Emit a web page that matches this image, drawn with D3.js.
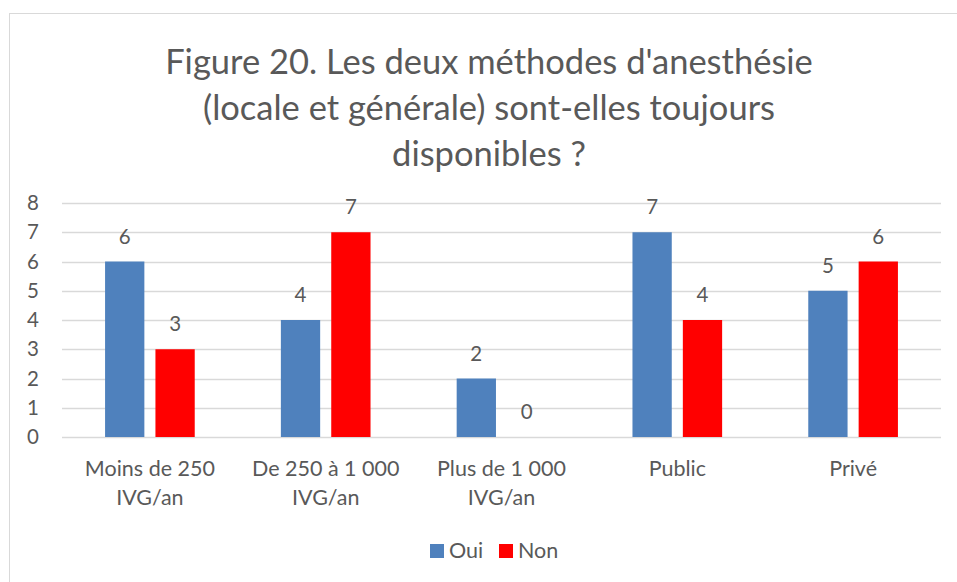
<!DOCTYPE html>
<html>
<head>
<meta charset="utf-8">
<script src="https://cdn.jsdelivr.net/npm/d3@7"></script>
<style>
  body { margin: 0; background: #fff; }
  text { font-family: Lato, "Open Sans", sans-serif; fill: #595959; }
</style>
</head>
<body>
<div id="chart"></div>
<script>
// data
var categories = [["Moins de 250", "IVG/an"], ["De 250 à 1 000", "IVG/an"], ["Plus de 1 000", "IVG/an"], ["Public"], ["Privé"]];
var series = ["Oui", "Non"];
var ouiValues = [6, 4, 2, 7, 5];
var nonValues = [3, 7, 0, 4, 6];
var yTicks = [0, 1, 2, 3, 4, 5, 6, 7, 8];
var titleLines = ["Figure 20. Les deux méthodes d'anesthésie", "(locale et générale) sont-elles toujours", "disponibles ?"];
var colors = ["#4F81BD", "#FF0000"];

var svgWidth = 957, svgHeight = 582;
var margin = {top: 203, left: 62, right: 16, bottom: 145};
var width = svgWidth - margin.left - margin.right;
var height = svgHeight - margin.top - margin.bottom;

var svg = d3.select("#chart").append("svg")
  .attr("width", svgWidth)
  .attr("height", svgHeight);

// chart border (only top/left visible in frame)
svg.append("rect")
  .attr("x", 9.5).attr("y", 13.5)
  .attr("width", 1000).attr("height", 1000)
  .attr("fill", "none")
  .attr("stroke", "#d9d9d9");

// title
svg.append("g").selectAll("text")
  .data(titleLines)
  .enter().append("text")
  .attr("x", 489)
  .attr("y", (d, i) => 74 + i * 46)
  .attr("text-anchor", "middle")
  .attr("font-size", "34.5px")
  .text(d => d);

var chartGroup = svg.append("g")
  .attr("transform", `translate(${margin.left}, ${margin.top})`);

var x0 = d3.scaleBand()
  .domain(d3.range(categories.length))
  .range([0, width])
  .paddingInner(0.49)
  .paddingOuter(0.245);

var x1 = d3.scaleBand()
  .domain(series)
  .range([0, x0.bandwidth()])
  .paddingInner(0.22);

var yScale = d3.scaleLinear()
  .domain([0, 8])
  .range([height, 0]);

// gridlines
chartGroup.append("g").selectAll("line")
  .data(yTicks)
  .enter().append("line")
  .attr("x1", 0).attr("x2", width)
  .attr("y1", d => Math.round(yScale(d)) + 0.5)
  .attr("y2", d => Math.round(yScale(d)) + 0.5)
  .attr("stroke", "#d9d9d9")
  .attr("stroke-width", 1.3);

// y axis labels
var leftAxis = d3.axisLeft(yScale).tickValues(yTicks).tickSize(0).tickPadding(23);
var yAxis = chartGroup.append("g").call(leftAxis);
yAxis.select(".domain").remove();
yAxis.selectAll("text")
  .attr("font-size", "20.5px")
  .attr("fill", "#595959")
  .style("font-family", "Lato, sans-serif");

// bars
var rows = categories.map((c, i) => ({i: i, values: [ouiValues[i], nonValues[i]]}));

var groups = chartGroup.selectAll(".grp")
  .data(rows)
  .enter().append("g")
  .attr("transform", d => `translate(${x0(d.i)}, 0)`);

groups.selectAll("rect")
  .data(d => d.values.map((v, k) => ({s: series[k], v: v, k: k})))
  .enter().append("rect")
  .attr("x", d => x1(d.s))
  .attr("y", d => yScale(d.v))
  .attr("width", x1.bandwidth())
  .attr("height", d => height - yScale(d.v))
  .attr("fill", d => colors[d.k]);

groups.selectAll(".lbl")
  .data(d => d.values.map((v, k) => ({s: series[k], v: v})))
  .enter().append("text")
  .attr("x", d => x1(d.s) + x1.bandwidth() / 2)
  .attr("y", d => yScale(d.v) - 18)
  .attr("text-anchor", "middle")
  .attr("font-size", "20.5px")
  .text(d => d.v);

// x category labels
chartGroup.append("g").selectAll("text")
  .data(categories)
  .enter().append("text")
  .attr("text-anchor", "middle")
  .attr("font-size", "21.5px")
  .attr("transform", (d, i) => `translate(${x0(i) + x0.bandwidth() / 2}, ${height + 39})`)
  .each(function(d) {
    var t = d3.select(this);
    d.forEach((line, j) => {
      t.append("tspan").attr("x", 0).attr("dy", j === 0 ? 0 : 29).text(line);
    });
  });

// legend
var legend = svg.append("g").attr("transform", "translate(430, 544)");
var legendX = [0, 69];
series.forEach((s, i) => {
  legend.append("rect")
    .attr("x", legendX[i]).attr("y", 0)
    .attr("width", 14).attr("height", 14)
    .attr("fill", colors[i]);
  legend.append("text")
    .attr("x", legendX[i] + 19).attr("y", 14)
    .attr("font-size", "21.5px")
    .text(s);
});
</script>
</body>
</html>
